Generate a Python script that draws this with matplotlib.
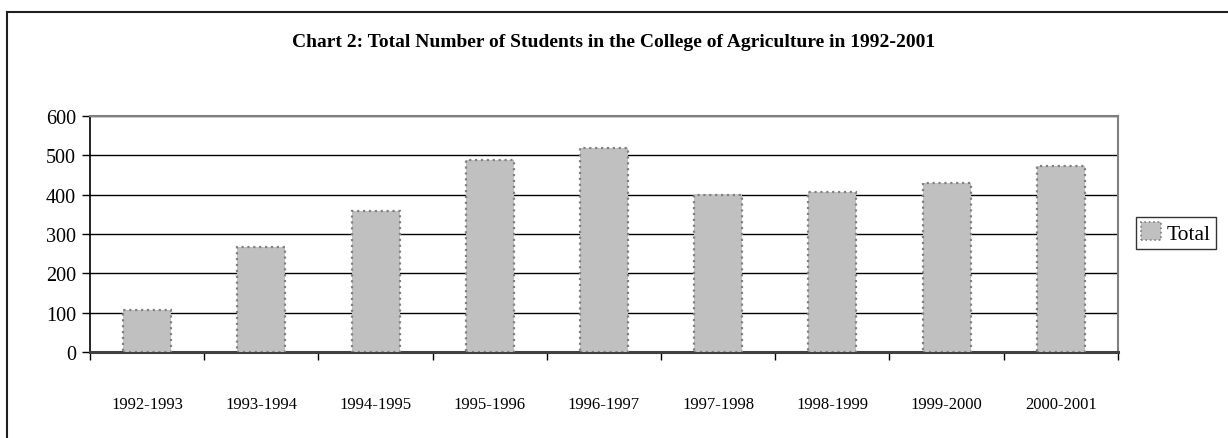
import numpy as np
import matplotlib.pyplot as plt
from matplotlib.lines import Line2D
from matplotlib.patches import Patch

plt.rcParams['font.family'] = ['Liberation Serif', 'DejaVu Serif']

years = ['1992-1993', '1993-1994', '1994-1995', '1995-1996', '1996-1997',
         '1997-1998', '1998-1999', '1999-2000', '2000-2001']
total = [106, 268, 358, 488, 519, 400, 407, 430, 473]
yticks = [0, 100, 200, 300, 400, 500, 600]

fig = plt.figure(figsize=(12.28, 4.39), dpi=100)
ax = fig.add_axes([0.0733, 0.196, 0.837, 0.5375])

x = np.arange(len(years))
ax.bar(x, total, width=0.42, color='#c0c0c0', edgecolor='#808080',
       linestyle=':', linewidth=1.6, zorder=3)

ax.set_xlim(-0.5, len(years) - 0.5)
ax.set_ylim(0, 600)
ax.set_yticks(yticks)
ax.set_yticklabels([str(v) for v in yticks], fontsize=14.5)
ax.yaxis.grid(True, color='black', linewidth=1.0, zorder=0)

# category boundary ticks
ax.set_xticks(np.arange(len(years) + 1) - 0.5)
ax.set_xticklabels([])
ax.set_xticks(x, minor=True)
ax.set_xticklabels(years, minor=True, fontsize=12)
ax.tick_params(axis='x', which='minor', length=0, pad=32)
ax.tick_params(axis='x', which='major', length=6, width=1, direction='out')
ax.tick_params(axis='y', length=6, width=1, direction='out', pad=4)

ax.spines['left'].set_color('black')
ax.spines['left'].set_linewidth(1.2)
ax.spines['bottom'].set_color('#404040')
ax.spines['bottom'].set_linewidth(2.2)
ax.spines['top'].set_color('#808080')
ax.spines['top'].set_linewidth(1.5)
ax.spines['right'].set_color('#808080')
ax.spines['right'].set_linewidth(1.5)

fig.text(0.5, 0.903, 'Chart 2: Total Number of Students in the College of Agriculture in 1992-2001',
         ha='center', va='center', fontsize=14, fontweight='bold')

handle = Patch(facecolor='#c0c0c0', edgecolor='#808080', linestyle=':', linewidth=1.2)
leg = fig.legend([handle], ['Total'], loc='center left', bbox_to_anchor=(0.925, 0.467),
                 fontsize=15.5, frameon=True, fancybox=False, borderpad=0.25,
                 handlelength=0.9, handleheight=0.9, handletextpad=0.3,
                 borderaxespad=0)
leg.get_frame().set_edgecolor('black')
leg.get_frame().set_linewidth(1.0)

# outer chart frame
fig.add_artist(Line2D([7 / 1228, 7 / 1228], [0, 1 - 13 / 439], color='#202020', linewidth=1.5))
fig.add_artist(Line2D([7 / 1228, 1], [1 - 13 / 439, 1 - 13 / 439], color='#202020', linewidth=1.5))

fig.savefig('out.png', dpi=100)
